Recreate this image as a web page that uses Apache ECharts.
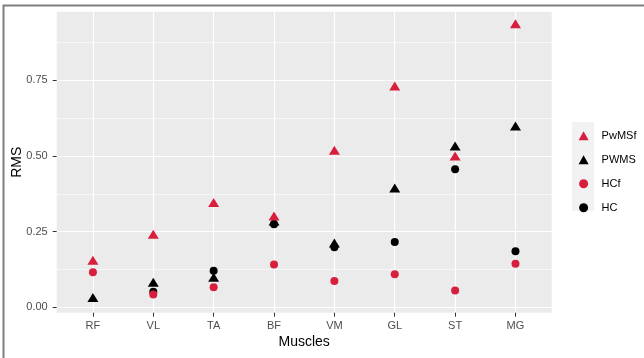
<!DOCTYPE html>
<html>
<head>
<meta charset="utf-8">
<script src="https://cdn.jsdelivr.net/npm/echarts@6/dist/echarts.min.js"></script>
<style>html,body{margin:0;padding:0;background:#fff}#c{width:644px;height:358px}</style>
</head>
<body>
<div id="c"></div>
<script>
const categories = ['RF', 'VL', 'TA', 'BF', 'VM', 'GL', 'ST', 'MG'];
const PwMSf = [0.155, 0.241, 0.346, 0.302, 0.519, 0.731, 0.500, 0.937];
const PWMS  = [0.032, 0.083, 0.099, 0.285, 0.212, 0.394, 0.533, 0.599];
const HCf   = [0.116, 0.042, 0.066, 0.141, 0.087, 0.109, 0.055, 0.144];
const HC    = [null, 0.051, 0.121, 0.274, 0.198, 0.216, 0.456, 0.185];
const yTicks = [0, 0.25, 0.5, 0.75];
const yMinorTicks = [0.125, 0.375, 0.625, 0.875];

const RED = '#d81e3d';
const FONT = "'Liberation Sans', Arial, sans-serif";
const idx = categories.map((_, i) => i);
const pts = arr => arr.map((v, i) => [i, v]).filter(p => p[1] !== null);

const chart = echarts.init(document.getElementById('c'), null, {renderer: 'canvas'});
chart.setOption({
  animation: false,
  backgroundColor: '#ffffff',
  textStyle: {fontFamily: FONT},
  grid: {left: 56.7, top: 11.7, width: 495, height: 301, show: true, backgroundColor: '#ebebeb', borderWidth: 0, containLabel: false, outerBoundsMode: 'none'},
  xAxis: {
    type: 'value', min: -0.6, max: 7.6,
    name: 'Muscles', nameLocation: 'middle', nameGap: 22, nameMoveOverlap: false,
    nameTextStyle: {fontSize: 14, color: '#000', fontFamily: FONT},
    axisLine: {show: false, onZero: false},
    axisTick: {show: true, customValues: idx, length: 4, lineStyle: {color: '#333', width: 1}},
    axisLabel: {customValues: idx, formatter: v => categories[Math.round(v)], fontSize: 11, color: '#4d4d4d', margin: 8, fontFamily: FONT},
    splitLine: {show: true, lineStyle: {color: '#ffffff', width: 1.2}}
  },
  yAxis: [{
    type: 'value', min: -0.018, max: 0.977,
    name: 'RMS', nameLocation: 'middle', nameGap: 33, nameMoveOverlap: false,
    nameTextStyle: {fontSize: 14, color: '#000', fontFamily: FONT},
    axisLine: {show: false, onZero: false},
    axisTick: {show: true, customValues: yTicks, length: 4, lineStyle: {color: '#333', width: 1}},
    axisLabel: {customValues: yTicks, formatter: v => v.toFixed(2), fontSize: 11, color: '#4d4d4d', margin: 9, fontFamily: FONT},
    splitLine: {show: true, lineStyle: {color: '#ffffff', width: 1.2}}
  }, {
    type: 'value', min: -0.018, max: 0.977, position: 'left',
    axisLine: {show: false, onZero: false},
    axisTick: {show: false, customValues: yMinorTicks},
    axisLabel: {show: false, customValues: yMinorTicks},
    splitLine: {show: true, lineStyle: {color: '#ffffff', width: 0.6}}
  }],
  legend: {
    orient: 'vertical', left: 578.6, top: 130.2, padding: 0,
    itemWidth: 10, itemHeight: 9, itemGap: 13,
    textStyle: {fontSize: 11, color: '#000', fontFamily: FONT, padding: [0, 0, 0, 8]},
    data: [
      {name: 'PwMSf', icon: 'triangle'},
      {name: 'PWMS', icon: 'triangle'},
      {name: 'HCf', icon: 'circle'},
      {name: 'HC', icon: 'circle'}
    ]
  },
  graphic: [
    {type: 'rect', z: -1, shape: {x: 572, y: 122, width: 22, height: 89}, style: {fill: '#f2f2f2'}},
    {type: 'rect', z: 100, shape: {x: 3.5, y: 5.5, width: 700, height: 400}, style: {fill: 'none', stroke: '#7f7f7f', lineWidth: 2}}
  ],
  series: [
    {name: 'HC', type: 'scatter', data: pts(HC), symbol: 'circle', symbolSize: 8, itemStyle: {color: '#000', opacity: 1}},
    {name: 'HCf', type: 'scatter', data: pts(HCf), symbol: 'circle', symbolSize: 8, itemStyle: {color: RED, opacity: 1}},
    {name: 'PWMS', type: 'scatter', data: pts(PWMS), symbol: 'triangle', symbolSize: [11, 9], itemStyle: {color: '#000', opacity: 1}},
    {name: 'PwMSf', type: 'scatter', data: pts(PwMSf), symbol: 'triangle', symbolSize: [11, 9], itemStyle: {color: RED, opacity: 1}}
  ]
});
</script>
</body>
</html>
